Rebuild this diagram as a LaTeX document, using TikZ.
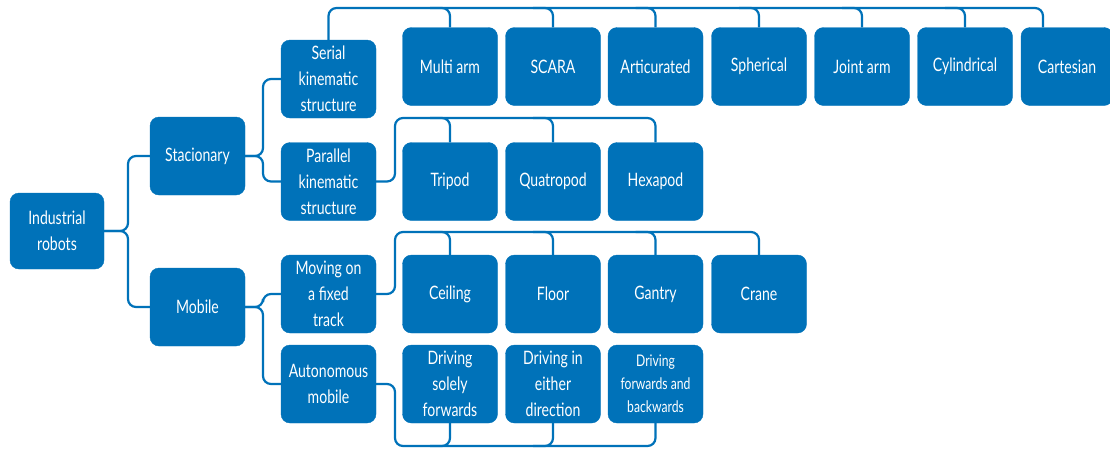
\documentclass[tikz,border=0pt]{standalone}
\usepackage{fontspec}
\setmainfont[FakeStretch=0.76]{Lato}
\definecolor{boxblue}{RGB}{0,114,185}
\tikzset{
  box/.style={draw=boxblue, fill=boxblue, rounded corners=9pt, text=white, align=center,
    minimum width=95pt, minimum height=78pt, inner sep=0pt, font=\fontsize{18.5}{26}\selectfont},
  smalltext/.style={font=\fontsize{16}{23}\selectfont},
  link/.style={draw=boxblue, line width=2.2pt, rounded corners=8pt},
}
\begin{document}
\begin{tikzpicture}[x=1pt,y=-1pt]
\useasboundingbox (0,0) rectangle (1110,448);
\clip (0,0) rectangle (1110,448);
% nodes
\node[box, minimum width=94pt, minimum height=76pt] (root) at (57,231) {Industrial\\robots};
\node[box] (stac) at (197.5,156) {Stacionary};
\node[box] (mob) at (197.5,307) {Mobile};
\node[box] (ser) at (328.5,79) {Serial\\kinematic\\structure};
\node[box] (par) at (328.5,181.5) {Parallel\\kinematic\\structure};
\node[box] (mov) at (328.5,294) {Moving on\\a fixed\\track};
\node[box] (aut) at (328.5,384) {Autonomous\\mobile};
% row 1
\node[box] (multi) at (450,66.5) {Multi arm};
\node[box] (scara) at (553,66.5) {SCARA};
\node[box] (artic) at (655.5,66.5) {Articurated};
\node[box] (spher) at (759,66.5) {Spherical};
\node[box] (joint) at (862,66.5) {Joint arm};
\node[box] (cyl) at (965,66.5) {Cylindrical};
\node[box, minimum width=92pt] (cart) at (1067,66.5) {Cartesian};
% row 2
\node[box] (tri) at (450,181.5) {Tripod};
\node[box] (quat) at (553,181.5) {Quatropod};
\node[box] (hexa) at (655.5,181.5) {Hexapod};
% row 3
\node[box] (ceil) at (450,294) {Ceiling};
\node[box] (floor) at (553,294) {Floor};
\node[box] (gant) at (655.5,294) {Gantry};
\node[box] (crane) at (759,294) {Crane};
% row 4
\node[box] (d1) at (450,384) {Driving\\solely\\forwards};
\node[box] (d2) at (553,384) {Driving in\\either\\direction};
\node[box, smalltext] (d3) at (655.5,384) {Driving\\forwards and\\backwards};
% connectors
\draw[link] (root.east) -- (128,231) |- (stac.west);
\draw[link] (root.east) -- (128,231) |- (mob.west);
\draw[link] (stac.east) -- (263,156) |- (ser.west);
\draw[link] (stac.east) -- (263,156) |- (par.west);
\draw[link] (mob.east) -- (263,307) |- (mov.west);
\draw[link] (mob.east) -- (263,307) |- (aut.west);
% serial
\coordinate (ct) at (1043,8);
\draw[link] (ser.north) |- (ct) -- (ct |- cart.north);
\foreach \m in {multi,scara,artic,spher,joint,cyl}
  \draw[link] ([xshift=-20pt]\m.north |- ct) -| (\m.north);
% parallel
\coordinate (pt) at (395,118);
\draw[link] (par.east) -| (pt) -| (hexa.north);
\foreach \m in {tri,quat}
  \draw[link] ([xshift=-20pt]\m.north |- pt) -| (\m.north);
% moving
\coordinate (mt) at (395,232);
\draw[link] (mov.east) -| (mt) -| (crane.north);
\foreach \m in {ceil,floor,gant}
  \draw[link] ([xshift=-20pt]\m.north |- mt) -| (\m.north);
% autonomous
\coordinate (at) at (395,446);
\draw[link] (aut.east) -| (at) -| (d3.south);
\foreach \m in {d1,d2}
  \draw[link] ([xshift=-20pt]\m.south |- at) -| (\m.south);
\end{tikzpicture}
\end{document}
